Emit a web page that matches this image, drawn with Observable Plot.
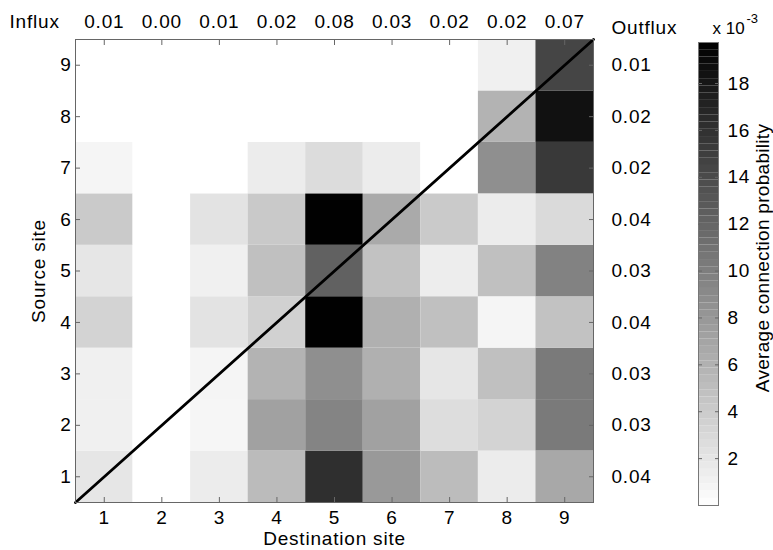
<!DOCTYPE html>
<html>
<head>
<meta charset="utf-8">
<script src="https://cdn.jsdelivr.net/npm/d3@7"></script>
<script src="https://cdn.jsdelivr.net/npm/@observablehq/plot@0.6"></script>
<style>
  html, body { margin: 0; padding: 0; background: #fff; }
  #wrap { position: relative; width: 773px; height: 550px; }
  #wrap svg { position: absolute; left: 0; top: 0; }
  #wrap svg text { letter-spacing: 0.8px; }
</style>
</head>
<body>
<div id="wrap"></div>
<script>
// ---- data (values in units of 1e-3) ----
const sites = [1, 2, 3, 4, 5, 6, 7, 8, 9];
// rows = source site 1..9, columns = destination site 1..9
const prob = [
  [1.9, 0, 1.5, 5.3, 16.1, 7.9, 5.2, 1.5, 6.7],
  [1.2, 0, 0.7, 7.3, 9.5, 7.3, 2.6, 3.4, 10.3],
  [1.2, 0, 0.8, 5.9, 8.7, 6.1, 1.9, 4.9, 10.3],
  [3.4, 0, 2.2, 3.6, 19.7, 6.1, 4.9, 0.8, 4.7],
  [1.9, 0, 1.2, 4.9, 12.2, 4.7, 1.4, 4.9, 9.7],
  [4.1, 0, 2.2, 4.2, 19.7, 6.6, 4.1, 1.5, 2.9],
  [0.8, 0, 0, 1.5, 2.7, 1.5, 0, 8.7, 15.3],
  [0, 0, 0, 0, 0, 0, 0, 5.9, 18.4],
  [0, 0, 0, 0, 0, 0, 0, 1.2, 14.4]
];
const influx = ["0.01", "0.00", "0.01", "0.02", "0.08", "0.03", "0.02", "0.02", "0.07"];
const outflux = ["0.04", "0.03", "0.03", "0.04", "0.03", "0.04", "0.02", "0.02", "0.01"]; // source 1..9
const colorbarTicks = [2, 4, 6, 8, 10, 12, 14, 16, 18];
const colorMax = 19.75;
const diagonal = [[0.5, 0.5], [9.5, 9.5]];

const cells = [];
prob.forEach((row, i) => row.forEach((v, j) => cells.push({source: sites[i], dest: sites[j], value: v})));

const FONT = "'Liberation Sans', Arial, Helvetica, sans-serif";
const FS = 19;
const colorOpts = {type: "linear", domain: [0, colorMax], range: ["#ffffff", "#000000"]};

const main = Plot.plot({
  width: 773, height: 550,
  marginLeft: 75, marginRight: 180, marginTop: 39, marginBottom: 48,
  style: {fontFamily: FONT, fontSize: FS + "px", color: "#000", background: "transparent"},
  x: {type: "linear", domain: [0.5, 9.5]},
  y: {type: "linear", domain: [0.5, 9.5]},
  color: colorOpts,
  marks: [
    Plot.rect(cells, {x1: d => d.dest - 0.5, x2: d => d.dest + 0.5, y1: d => d.source - 0.5, y2: d => d.source + 0.5, fill: "value"}),
    Plot.line(diagonal, {x: d => d[0], y: d => d[1], stroke: "#000", strokeWidth: 2.8}),
    Plot.frame({stroke: "#666", strokeWidth: 1}),
    Plot.axisX({anchor: "bottom", ticks: sites, tickSize: -5, tickPadding: 13, tickFormat: d => String(d), label: null, stroke: "#666", fill: "#000", fontSize: FS}),
    Plot.axisX({anchor: "top", ticks: sites, tickSize: -5, tickPadding: 17, tickFormat: (d, i) => influx[i], label: null, stroke: "#666", fill: "#000", fontSize: FS}),
    Plot.axisY({anchor: "left", ticks: sites, tickSize: -5, tickPadding: 9, tickFormat: d => String(d), label: null, stroke: "#666", fill: "#000", fontSize: FS}),
    Plot.axisY({anchor: "right", ticks: sites, tickSize: -5, tickPadding: 23, tickFormat: (d, i) => outflux[i], label: null, stroke: "#666", fill: "#000", fontSize: FS, textAnchor: "start"}),
    Plot.text(["Destination site"], {frameAnchor: "bottom", dy: 36, text: d => d, textAnchor: "middle", lineAnchor: "middle", fontSize: FS}),
    Plot.text(["Source site"], {frameAnchor: "left", dx: -37, rotate: -90, text: d => d, textAnchor: "middle", lineAnchor: "middle", fontSize: FS}),
    Plot.text(["Influx"], {frameAnchor: "top-left", dx: -66, dy: -12, textAnchor: "start", lineAnchor: "bottom", text: d => d, fontSize: FS}),
    Plot.text(["Outflux"], {frameAnchor: "top-right", dx: 18, dy: -6, textAnchor: "start", lineAnchor: "bottom", text: d => d, fontSize: FS}),
    Plot.text(["x 10"], {frameAnchor: "top-right", dx: 119, dy: -6, textAnchor: "start", lineAnchor: "bottom", text: d => d, fontSize: 17}),
    Plot.text(["-3"], {frameAnchor: "top-right", dx: 153, dy: -17, textAnchor: "start", lineAnchor: "bottom", text: d => d, fontSize: 13})
  ]
});

// colorbar: 64 discrete levels like a MATLAB colormap
const levels = d3.range(64).map(i => ({y1: i * colorMax / 64, y2: (i + 1) * colorMax / 64, mid: (i + 0.5) * colorMax / 64}));
const bar = Plot.plot({
  width: 773, height: 550,
  marginLeft: 698, marginRight: 55, marginTop: 42, marginBottom: 45,
  style: {fontFamily: FONT, fontSize: FS + "px", color: "#000", background: "transparent"},
  x: {type: "linear", domain: [0, 1], axis: null},
  y: {type: "linear", domain: [0, colorMax]},
  color: colorOpts,
  marks: [
    Plot.rect(levels, {y1: "y1", y2: "y2", fill: "mid"}),
    Plot.frame({stroke: "#777"}),
    Plot.axisY({anchor: "right", ticks: colorbarTicks, tickSize: -4, tickPadding: 13, tickFormat: d => String(d), label: null, stroke: "#666", fill: "#000", fontSize: FS, textAnchor: "start"}),
    Plot.axisY({anchor: "left", ticks: colorbarTicks, tickSize: -4, tickFormat: () => "", label: null, stroke: "#666"}),
    Plot.text(["Average connection probability"], {frameAnchor: "right", dx: 44, dy: -16, rotate: -90, text: d => d, textAnchor: "middle", lineAnchor: "middle", fontSize: FS})
  ]
});

const wrap = document.getElementById("wrap");
wrap.appendChild(main);
wrap.appendChild(bar);
d3.select(bar).selectAll("text").filter(function () { return this.textContent === "Average connection probability"; }).style("letter-spacing", "0.3px");
d3.select(main).selectAll("text").filter(function () { return this.textContent === "x 10" || this.textContent === "-3"; }).style("letter-spacing", "0px");
</script>
</body>
</html>
